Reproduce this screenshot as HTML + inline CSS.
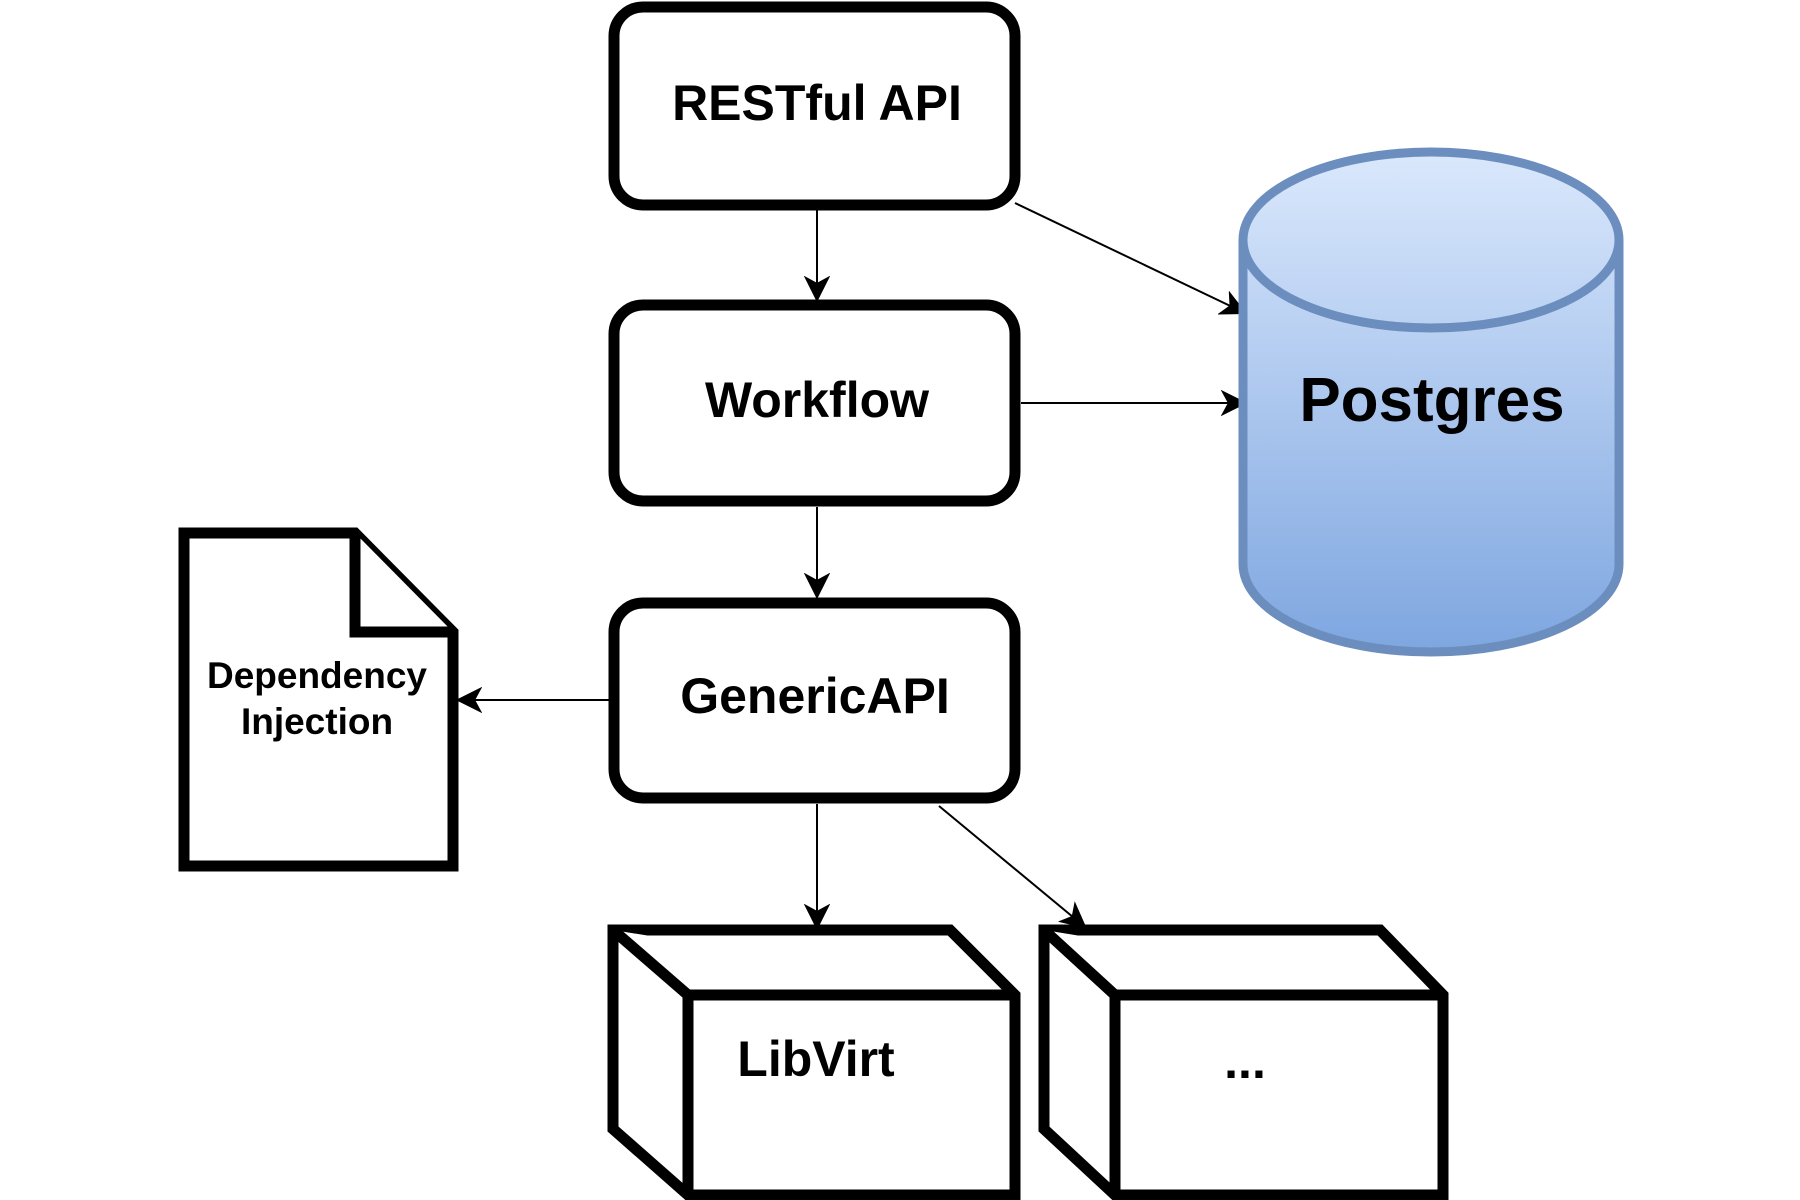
<!DOCTYPE html>
<html><head><style>html,body{margin:0;padding:0;background:#fff}svg{display:block}</style></head>
<body>
<svg width="1800" height="1200" viewBox="0 0 1800 1200" xmlns="http://www.w3.org/2000/svg">
<defs>
<linearGradient id="g" x1="0" y1="0" x2="0" y2="1"><stop offset="0" stop-color="#dae8fc"/><stop offset="1" stop-color="#7ea6e0"/></linearGradient>
<marker id="a" viewBox="0 0 26 26" refX="24" refY="13" markerWidth="26" markerHeight="26" markerUnits="userSpaceOnUse" orient="auto">
<path d="M2,2 L24,13 L2,24 L8,13 Z" fill="#000" stroke="#000" stroke-width="2"/></marker>
</defs>
<g fill="none" stroke="#000" stroke-width="2">
<line x1="817" y1="210" x2="817" y2="300" marker-end="url(#a)"/>
<line x1="817" y1="507" x2="817" y2="597" marker-end="url(#a)"/>
<line x1="817" y1="804" x2="817" y2="928" marker-end="url(#a)"/>
<line x1="1015" y1="203" x2="1245" y2="313" marker-end="url(#a)"/>
<line x1="1021" y1="403" x2="1245" y2="403" marker-end="url(#a)"/>
<line x1="613" y1="700" x2="458" y2="700" marker-end="url(#a)"/>
<line x1="939" y1="806" x2="1085" y2="927" marker-end="url(#a)"/>
</g>
<g fill="#fff" stroke="#000" stroke-width="11">
<rect x="614" y="7" width="401" height="198" rx="29"/>
<rect x="614" y="305" width="401" height="196" rx="29"/>
<rect x="614" y="603" width="401" height="195" rx="29"/>
<path d="M184,533 L355,533 L453,632 L453,866 L184,866 Z"/>
<path d="M355,533 L355,632 L453,632"/>
<path d="M613,930 L950,930 L1015,995 L1015,1195 L688,1195 L613,1129 Z"/>
<path d="M613,930 L688,995 L1015,995 M688,995 L688,1195"/>
<path d="M1044,930 L1380,930 L1443,995 L1443,1195 L1115,1195 L1044,1129 Z"/>
<path d="M1044,930 L1115,995 L1443,995 M1115,995 L1115,1195"/>
</g>
<g stroke="#6c8ebf" stroke-width="9">
<path d="M1243,240 A188,88 0 0 1 1619,240 L1619,564 A188,88 0 0 1 1243,564 Z" fill="url(#g)"/>
<path d="M1243,240 A188,88 0 0 0 1619,240" fill="none"/>
</g>
<g font-family="'Liberation Sans',sans-serif" font-weight="bold" text-anchor="middle" fill="#000">
<text x="817" y="120" font-size="50">RESTful API</text>
<text x="817" y="417" font-size="50">Workflow</text>
<text x="815" y="713" font-size="50">GenericAPI</text>
<text x="1432" y="421" font-size="62">Postgres</text>
<text x="317" y="688" font-size="37">Dependency</text>
<text x="317" y="734" font-size="37">Injection</text>
<text x="816" y="1076" font-size="50">LibVirt</text>
<text x="1245" y="1078" font-size="50">...</text>
</g>
</svg>
</body></html>
